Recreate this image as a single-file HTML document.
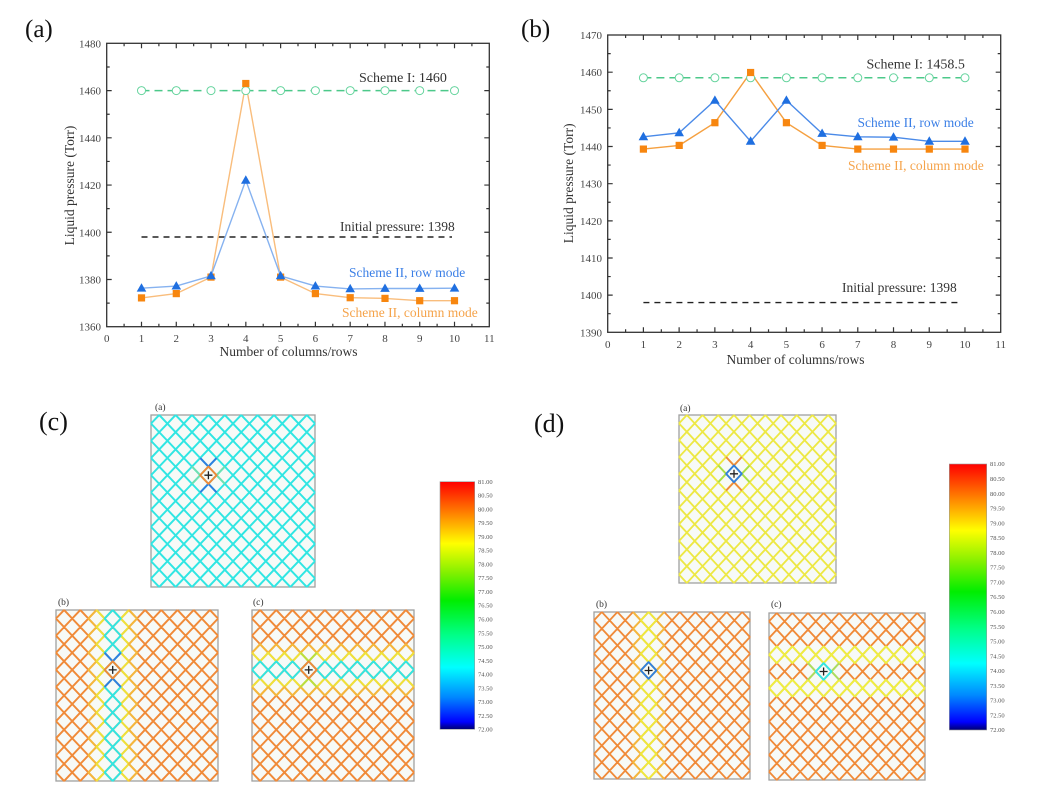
<!DOCTYPE html>
<html><head><meta charset="utf-8"><style>
html,body{margin:0;padding:0;background:#fff;}
svg{display:block;}
</style></head><body>
<svg width="1054" height="794" viewBox="0 0 1054 794" xmlns="http://www.w3.org/2000/svg" font-family="'Liberation Serif', serif">
<defs>
<path id="mesh" d="M0 5L5 0M0 15L15 0M0 25L25 0M0 35L35 0M0 45L45 0M0 55L55 0M0 65L65 0M0 75L75 0M0 85L85 0M0 95L95 0M5 100L100 5M15 100L100 15M25 100L100 25M35 100L100 35M45 100L100 45M55 100L100 55M65 100L100 65M75 100L100 75M85 100L100 85M95 100L100 95M0 5L95 100M0 15L85 100M0 25L75 100M0 35L65 100M0 45L55 100M0 55L45 100M0 65L35 100M0 75L25 100M0 85L15 100M0 95L5 100M5 0L100 95M15 0L100 85M25 0L100 75M35 0L100 65M45 0L100 55M55 0L100 45M65 0L100 35M75 0L100 25M85 0L100 15M95 0L100 5"/>
<path id="c3" d="M35,0L30,5 35,10 30,15 35,20 30,25 35,30 30,35 35,40 30,45 35,50 30,55 35,60 30,65 35,70 30,75 35,80 30,85 35,90 30,95 35,100M35,0L40,5 35,10 40,15 35,20 40,25 35,30 40,35 35,40 40,45 35,50 40,55 35,60 40,65 35,70 40,75 35,80 40,85 35,90 40,95 35,100"/>
<path id="c2L" d="M25,0L20,5 25,10 20,15 25,20 20,25 25,30 20,35 25,40 20,45 25,50 20,55 25,60 20,65 25,70 20,75 25,80 20,85 25,90 20,95 25,100"/>
<path id="c2R" d="M25,0L30,5 25,10 30,15 25,20 30,25 25,30 30,35 25,40 30,45 25,50 30,55 25,60 30,65 25,70 30,75 25,80 30,85 25,90 30,95 25,100"/>
<path id="c4L" d="M45,0L40,5 45,10 40,15 45,20 40,25 45,30 40,35 45,40 40,45 45,50 40,55 45,60 40,65 45,70 40,75 45,80 40,85 45,90 40,95 45,100"/>
<path id="c4R" d="M45,0L50,5 45,10 50,15 45,20 50,25 45,30 50,35 45,40 50,45 45,50 50,55 45,60 50,65 45,70 50,75 45,80 50,85 45,90 50,95 45,100"/>
<path id="r3" d="M0,35L5,30 10,35 15,30 20,35 25,30 30,35 35,30 40,35 45,30 50,35 55,30 60,35 65,30 70,35 75,30 80,35 85,30 90,35 95,30 100,35M0,35L5,40 10,35 15,40 20,35 25,40 30,35 35,40 40,35 45,40 50,35 55,40 60,35 65,40 70,35 75,40 80,35 85,40 90,35 95,40 100,35"/>
<path id="r2T" d="M0,25L5,20 10,25 15,20 20,25 25,20 30,25 35,20 40,25 45,20 50,25 55,20 60,25 65,20 70,25 75,20 80,25 85,20 90,25 95,20 100,25"/>
<path id="r2B" d="M0,25L5,30 10,25 15,30 20,25 25,30 30,25 35,30 40,25 45,30 50,25 55,30 60,25 65,30 70,25 75,30 80,25 85,30 90,25 95,30 100,25"/>
<path id="r4T" d="M0,45L5,40 10,45 15,40 20,45 25,40 30,45 35,40 40,45 45,40 50,45 55,40 60,45 65,40 70,45 75,40 80,45 85,40 90,45 95,40 100,45"/>
<path id="r4B" d="M0,45L5,50 10,45 15,50 20,45 25,50 30,45 35,50 40,45 45,50 50,45 55,50 60,45 65,50 70,45 75,50 80,45 85,50 90,45 95,50 100,45"/>
<path id="well" d="M35,30L40,35 35,40 30,35Z"/>
<path id="ud" d="M30,25L35,30 40,25M30,45L35,40 40,45"/>
<path id="lr" d="M25,30L30,35 25,40M45,30L40,35 45,40"/>
<linearGradient id="cb" x1="0" y1="0" x2="0" y2="1">
<stop offset="0" stop-color="#ff0000"/>
<stop offset="0.12" stop-color="#ff7a00"/>
<stop offset="0.25" stop-color="#ffff00"/>
<stop offset="0.37" stop-color="#80f000"/>
<stop offset="0.48" stop-color="#00ee00"/>
<stop offset="0.62" stop-color="#00ff88"/>
<stop offset="0.75" stop-color="#00ffff"/>
<stop offset="0.87" stop-color="#0088ff"/>
<stop offset="0.97" stop-color="#0000ff"/>
<stop offset="1" stop-color="#000070"/>
</linearGradient>
<path id="tri" d="M0,-5 L4.8,3.4 L-4.8,3.4Z" fill="#1f6fe0"/>
<rect id="sq" x="-3.6" y="-3.6" width="7.2" height="7.2" fill="#f7860f"/>
<circle id="circ" r="4" fill="#fff" stroke="#66d49e" stroke-width="1"/>
</defs>

<!-- ============ Chart (a) ============ -->
<text x="25" y="37" font-size="25" fill="#111">(a)</text>
<g stroke="#333" fill="none">
<line x1="140.9" y1="324.2" x2="455.1" y2="324.2" stroke-width="5" stroke-dasharray="1.2 33.58"/>
<line x1="123.5" y1="325.2" x2="472.5" y2="325.2" stroke-width="3" stroke-dasharray="1.2 33.58"/>
<line x1="140.9" y1="45.8" x2="455.1" y2="45.8" stroke-width="5" stroke-dasharray="1.2 33.58"/>
<line x1="123.5" y1="44.8" x2="472.5" y2="44.8" stroke-width="3" stroke-dasharray="1.2 33.58"/>
<line x1="109.2" y1="90.0" x2="109.2" y2="280.1" stroke-width="5" stroke-dasharray="1.2 46.02"/>
<line x1="108.2" y1="66.4" x2="108.2" y2="303.7" stroke-width="3" stroke-dasharray="1.2 46.02"/>
<line x1="486.8" y1="90.0" x2="486.8" y2="280.1" stroke-width="5" stroke-dasharray="1.2 46.02"/>
<line x1="487.8" y1="66.4" x2="487.8" y2="303.7" stroke-width="3" stroke-dasharray="1.2 46.02"/>
<rect x="106.7" y="43.3" width="382.6" height="283.4" stroke-width="1.3"/>
</g>
<g font-size="11" fill="#444" text-anchor="end">
<text x="101" y="47.3">1480</text><text x="101" y="94.6">1460</text><text x="101" y="141.8">1440</text><text x="101" y="189">1420</text><text x="101" y="236.3">1400</text><text x="101" y="283.5">1380</text><text x="101" y="330.7">1360</text>
</g>
<g font-size="11" fill="#444" text-anchor="middle">
<text x="106.7" y="342">0</text><text x="141.5" y="342">1</text><text x="176.3" y="342">2</text><text x="211" y="342">3</text><text x="245.8" y="342">4</text><text x="280.6" y="342">5</text><text x="315.4" y="342">6</text><text x="350.2" y="342">7</text><text x="385" y="342">8</text><text x="419.7" y="342">9</text><text x="454.5" y="342">10</text><text x="489.3" y="342">11</text>
</g>
<text x="288.5" y="356" font-size="13.5" fill="#333" text-anchor="middle">Number of columns/rows</text>
<text transform="translate(74,185.5) rotate(-90)" font-size="13.5" fill="#333" text-anchor="middle">Liquid pressure (Torr)</text>
<line x1="141.5" y1="237" x2="452" y2="237" stroke="#222" stroke-width="1.4" stroke-dasharray="6 5"/>
<polyline fill="none" stroke="#f9bd7c" stroke-width="1.4" points="141.5,297.9 176.3,293.6 211,277.1 245.8,83.5 280.6,277.1 315.4,293.6 350.2,297.7 385,298.4 419.7,300.7 454.5,300.7"/>
<polyline fill="none" stroke="#86b2f0" stroke-width="1.4" points="141.5,288.2 176.3,286.1 211,275.9 245.8,180.3 280.6,275.9 315.4,286.1 350.2,288.9 385,288.5 419.7,288.5 454.5,288.2"/>
<line x1="141.5" y1="90.6" x2="454.5" y2="90.6" stroke="#4cc98a" stroke-width="1.5" stroke-dasharray="8 5"/>
<g>
<use href="#circ" x="141.5" y="90.6"/><use href="#circ" x="176.3" y="90.6"/><use href="#circ" x="211" y="90.6"/><use href="#circ" x="245.8" y="90.6"/><use href="#circ" x="280.6" y="90.6"/><use href="#circ" x="315.4" y="90.6"/><use href="#circ" x="350.2" y="90.6"/><use href="#circ" x="385" y="90.6"/><use href="#circ" x="419.7" y="90.6"/><use href="#circ" x="454.5" y="90.6"/>
</g>
<g>
<use href="#sq" x="141.5" y="297.9"/><use href="#sq" x="176.3" y="293.6"/><use href="#sq" x="211" y="277.1"/><use href="#sq" x="245.8" y="83.5"/><use href="#sq" x="280.6" y="277.1"/><use href="#sq" x="315.4" y="293.6"/><use href="#sq" x="350.2" y="297.7"/><use href="#sq" x="385" y="298.4"/><use href="#sq" x="419.7" y="300.7"/><use href="#sq" x="454.5" y="300.7"/>
<use href="#tri" x="141.5" y="288.2"/><use href="#tri" x="176.3" y="286.1"/><use href="#tri" x="211" y="275.9"/><use href="#tri" x="245.8" y="180.3"/><use href="#tri" x="280.6" y="275.9"/><use href="#tri" x="315.4" y="286.1"/><use href="#tri" x="350.2" y="288.9"/><use href="#tri" x="385" y="288.5"/><use href="#tri" x="419.7" y="288.5"/><use href="#tri" x="454.5" y="288.2"/>
</g>
<text x="359" y="82" font-size="14" fill="#333">Scheme I: 1460</text>
<text x="340" y="231" font-size="13.5" fill="#333">Initial pressure: 1398</text>
<text x="349" y="277" font-size="13.5" fill="#3b7fe6">Scheme II, row mode</text>
<text x="342" y="317" font-size="13.5" fill="#f5a34a">Scheme II, column mode</text>

<!-- ============ Chart (b) ============ -->
<text x="521" y="37" font-size="25" fill="#111">(b)</text>
<g stroke="#333" fill="none">
<line x1="642.8" y1="329.8" x2="965.6" y2="329.8" stroke-width="5" stroke-dasharray="1.2 34.53"/>
<line x1="625" y1="330.8" x2="983.5" y2="330.8" stroke-width="3" stroke-dasharray="1.2 34.53"/>
<line x1="642.8" y1="37.5" x2="965.6" y2="37.5" stroke-width="5" stroke-dasharray="1.2 34.53"/>
<line x1="625" y1="36.5" x2="983.5" y2="36.5" stroke-width="3" stroke-dasharray="1.2 34.53"/>
<line x1="610.2" y1="71.6" x2="610.2" y2="295.7" stroke-width="5" stroke-dasharray="1.2 35.96"/>
<line x1="609.2" y1="53.0" x2="609.2" y2="314.3" stroke-width="3" stroke-dasharray="1.2 35.96"/>
<line x1="998.2" y1="71.6" x2="998.2" y2="295.7" stroke-width="5" stroke-dasharray="1.2 35.96"/>
<line x1="999.2" y1="53.0" x2="999.2" y2="314.3" stroke-width="3" stroke-dasharray="1.2 35.96"/>
<rect x="607.7" y="35" width="393" height="297.3" stroke-width="1.3"/>
</g>
<g font-size="11" fill="#444" text-anchor="end">
<text x="602" y="39">1470</text><text x="602" y="76.2">1460</text><text x="602" y="113.3">1450</text><text x="602" y="150.5">1440</text><text x="602" y="187.7">1430</text><text x="602" y="224.8">1420</text><text x="602" y="262">1410</text><text x="602" y="299.1">1400</text><text x="602" y="336.3">1390</text>
</g>
<g font-size="11" fill="#444" text-anchor="middle">
<text x="607.7" y="348">0</text><text x="643.4" y="348">1</text><text x="679.2" y="348">2</text><text x="714.9" y="348">3</text><text x="750.6" y="348">4</text><text x="786.4" y="348">5</text><text x="822.1" y="348">6</text><text x="857.8" y="348">7</text><text x="893.5" y="348">8</text><text x="929.3" y="348">9</text><text x="965" y="348">10</text><text x="1000.7" y="348">11</text>
</g>
<text x="795.5" y="364" font-size="13.5" fill="#333" text-anchor="middle">Number of columns/rows</text>
<text transform="translate(573,183.3) rotate(-90)" font-size="13.5" fill="#333" text-anchor="middle">Liquid pressure (Torr)</text>
<line x1="643.4" y1="302.6" x2="962" y2="302.6" stroke="#222" stroke-width="1.4" stroke-dasharray="6 5"/>
<polyline fill="none" stroke="#f5a040" stroke-width="1.4" points="643.4,149.1 679.2,145.4 714.9,122.7 750.6,72.5 786.4,122.7 822.1,145.4 857.8,149.1 893.5,149.1 929.3,149.1 965,149.1"/>
<polyline fill="none" stroke="#4a8ae8" stroke-width="1.4" points="643.4,136.8 679.2,132.8 714.9,100.4 750.6,141.3 786.4,100.4 822.1,133.5 857.8,136.8 893.5,137.2 929.3,141.3 965,141.3"/>
<line x1="643.4" y1="77.8" x2="965" y2="77.8" stroke="#4cc98a" stroke-width="1.5" stroke-dasharray="8 5"/>
<g>
<use href="#circ" x="643.4" y="77.8"/><use href="#circ" x="679.2" y="77.8"/><use href="#circ" x="714.9" y="77.8"/><use href="#circ" x="750.6" y="77.8"/><use href="#circ" x="786.4" y="77.8"/><use href="#circ" x="822.1" y="77.8"/><use href="#circ" x="857.8" y="77.8"/><use href="#circ" x="893.5" y="77.8"/><use href="#circ" x="929.3" y="77.8"/><use href="#circ" x="965" y="77.8"/>
</g>
<g>
<use href="#sq" x="643.4" y="149.1"/><use href="#sq" x="679.2" y="145.4"/><use href="#sq" x="714.9" y="122.7"/><use href="#sq" x="750.6" y="72.5"/><use href="#sq" x="786.4" y="122.7"/><use href="#sq" x="822.1" y="145.4"/><use href="#sq" x="857.8" y="149.1"/><use href="#sq" x="893.5" y="149.1"/><use href="#sq" x="929.3" y="149.1"/><use href="#sq" x="965" y="149.1"/>
<use href="#tri" x="643.4" y="136.8"/><use href="#tri" x="679.2" y="132.8"/><use href="#tri" x="714.9" y="100.4"/><use href="#tri" x="750.6" y="141.3"/><use href="#tri" x="786.4" y="100.4"/><use href="#tri" x="822.1" y="133.5"/><use href="#tri" x="857.8" y="136.8"/><use href="#tri" x="893.5" y="137.2"/><use href="#tri" x="929.3" y="141.3"/><use href="#tri" x="965" y="141.3"/>
</g>
<text x="866.5" y="68.5" font-size="14" fill="#333">Scheme I: 1458.5</text>
<text x="842" y="292" font-size="13.5" fill="#333">Initial pressure: 1398</text>
<text x="857.5" y="127" font-size="13.5" fill="#3b7fe6">Scheme II, row mode</text>
<text x="848" y="170" font-size="13.5" fill="#f5a34a">Scheme II, column mode</text>

<!-- ============ Panel (c) ============ -->
<text x="39" y="430" font-size="26" fill="#111">(c)</text>
<g font-size="9.5" fill="#333">
<text x="155" y="410">(a)</text><text x="58" y="605">(b)</text><text x="253" y="605">(c)</text>
<text x="680" y="411">(a)</text><text x="596" y="607">(b)</text><text x="771" y="607">(c)</text>
</g>
<g fill="#f7faf7" stroke="#a0a0a0" stroke-width="1.3">
<rect x="151" y="415" width="164" height="172"/>
<rect x="56" y="610" width="162" height="171"/>
<rect x="252" y="610" width="162" height="171"/>
<rect x="679" y="415" width="157" height="168"/>
<rect x="594" y="612" width="156" height="167"/>
<rect x="769" y="613" width="156" height="167"/>
</g>

<!-- (c)(a) -->
<g transform="translate(151,415) scale(1.64,1.72)" fill="none" stroke-width="1.15" stroke-linejoin="round">
<use href="#mesh" stroke="#30e6e3"/>
<use href="#ud" stroke="#2f7fe0"/>
<use href="#lr" stroke="#70e0b0"/>
<use href="#well" stroke="#f08a38"/>
</g>
<!-- (c)(b) -->
<g transform="translate(56,610) scale(1.62,1.71)" fill="none" stroke-width="1.15" stroke-linejoin="round">
<use href="#mesh" stroke="#f08a38"/>
<use href="#c2L" stroke="#f4b83c"/>
<use href="#c2R" stroke="#eee338"/>
<use href="#c4L" stroke="#eee338"/>
<use href="#c4R" stroke="#f4b83c"/>
<use href="#c3" stroke="#30e6e3"/>
<use href="#ud" stroke="#2f7fe0"/>
<use href="#well" stroke="#f08a38"/>
</g>
<!-- (c)(c) -->
<g transform="translate(252,610) scale(1.62,1.71)" fill="none" stroke-width="1.15" stroke-linejoin="round">
<use href="#mesh" stroke="#f08a38"/>
<use href="#r2T" stroke="#f4b83c"/>
<use href="#r2B" stroke="#eee338"/>
<use href="#r4T" stroke="#eee338"/>
<use href="#r4B" stroke="#f4b83c"/>
<use href="#r3" stroke="#30e6e3"/>
<use href="#ud" stroke="#b8e040"/>
<use href="#well" stroke="#f08a38"/>
</g>
<g stroke="#222" stroke-width="1.3">
<path d="M204.4 475.2H212.4M208.4 471.2V479.2"/>
<path d="M108.7 669.9H116.7M112.7 665.9V673.9"/>
<path d="M304.7 669.9H312.7M308.7 665.9V673.9"/>
</g>
<rect x="440" y="481.7" width="34.7" height="247.6" fill="url(#cb)" stroke="#999" stroke-width="0.6"/>
<g font-size="6.5" fill="#555">
<text x="478" y="483.9">81.00</text><text x="478" y="497.7">80.50</text><text x="478" y="511.4">80.00</text><text x="478" y="525.2">79.50</text><text x="478" y="538.9">79.00</text><text x="478" y="552.7">78.50</text><text x="478" y="566.5">78.00</text><text x="478" y="580.2">77.50</text><text x="478" y="594">77.00</text><text x="478" y="607.7">76.50</text><text x="478" y="621.5">76.00</text><text x="478" y="635.3">75.50</text><text x="478" y="649">75.00</text><text x="478" y="662.8">74.50</text><text x="478" y="676.5">74.00</text><text x="478" y="690.3">73.50</text><text x="478" y="704.1">73.00</text><text x="478" y="717.8">72.50</text><text x="478" y="731.6">72.00</text>
</g>

<!-- ============ Panel (d) ============ -->
<text x="534" y="432" font-size="26" fill="#111">(d)</text>
<!-- (d)(a) -->
<g transform="translate(679,415) scale(1.57,1.68)" fill="none" stroke-width="1.15" stroke-linejoin="round">
<use href="#mesh" stroke="#ede844"/>
<use href="#ud" stroke="#ef8a3a"/>
<use href="#lr" stroke="#a8e048"/>
<use href="#well" stroke="#2f7fe0"/>
</g>
<!-- (d)(b) -->
<g transform="translate(594,612) scale(1.56,1.67)" fill="none" stroke-width="1.15" stroke-linejoin="round">
<use href="#mesh" stroke="#f08a38"/>
<use href="#c2R" stroke="#f4b83c"/>
<use href="#c4L" stroke="#f4b83c"/>
<use href="#c3" stroke="#eeea3a"/>
<use href="#well" stroke="#2f7fe0"/>
</g>
<!-- (d)(c) -->
<g transform="translate(769,613) scale(1.56,1.67)" fill="none" stroke-width="1.15" stroke-linejoin="round">
<use href="#mesh" stroke="#f08a38"/>
<use href="#r2T" stroke="#eef040"/>
<use href="#r2B" stroke="#eef040"/>
<use href="#r4T" stroke="#eef040"/>
<use href="#r4B" stroke="#eef040"/>
<use href="#lr" stroke="#a8e060"/>
<use href="#well" stroke="#30e8e8"/>
</g>
<g stroke="#222" stroke-width="1.3">
<path d="M730 473.8H738M734 469.8V477.8"/>
<path d="M644.6 670.5H652.6M648.6 666.5V674.5"/>
<path d="M819.6 671.5H827.6M823.6 667.5V675.5"/>
</g>
<rect x="949.3" y="464" width="37.4" height="266" fill="url(#cb)" stroke="#999" stroke-width="0.6"/>
<g font-size="6.5" fill="#555">
<text x="990" y="466.2">81.00</text><text x="990" y="481">80.50</text><text x="990" y="495.8">80.00</text><text x="990" y="510.5">79.50</text><text x="990" y="525.3">79.00</text><text x="990" y="540.1">78.50</text><text x="990" y="554.9">78.00</text><text x="990" y="569.7">77.50</text><text x="990" y="584.4">77.00</text><text x="990" y="599.2">76.50</text><text x="990" y="614">76.00</text><text x="990" y="628.8">75.50</text><text x="990" y="643.6">75.00</text><text x="990" y="658.3">74.50</text><text x="990" y="673.1">74.00</text><text x="990" y="687.9">73.50</text><text x="990" y="702.7">73.00</text><text x="990" y="717.5">72.50</text><text x="990" y="732.2">72.00</text>
</g>
</svg>
</body></html>
